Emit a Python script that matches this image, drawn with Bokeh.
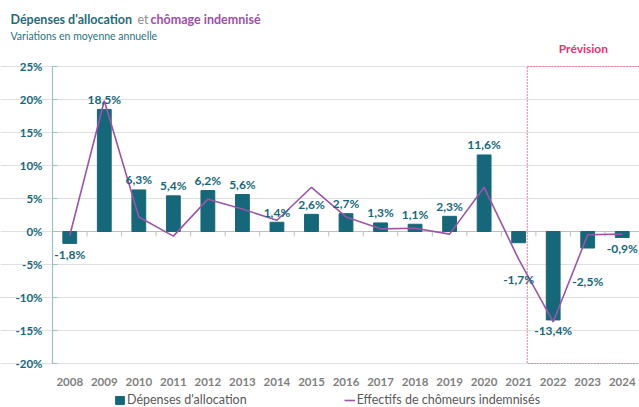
from bokeh.plotting import figure
from bokeh.models import (Range1d, FixedTicker, Span, Legend, LegendItem,
                          ColumnDataSource, Label)
from bokeh.core.properties import value
from bokeh.embed import file_html
from bokeh.resources import INLINE

# ---------------- data ----------------
years = ["2008", "2009", "2010", "2011", "2012", "2013", "2014", "2015", "2016",
         "2017", "2018", "2019", "2020", "2021", "2022", "2023", "2024"]
depenses = [-1.8, 18.5, 6.3, 5.4, 6.2, 5.6, 1.4, 2.6, 2.7, 1.3, 1.1, 2.3, 11.6,
            -1.7, -13.4, -2.5, -0.9]
chomeurs = [-0.6, 19.8, 2.2, -0.7, 4.9, 3.4, 1.7, 6.7, 2.2, 0.4, 0.5, -0.4, 6.7,
            -4.2, -13.7, -0.5, -0.4]
y_ticks = [-20, -15, -10, -5, 0, 5, 10, 15, 20, 25]
forecast_start = "2022"
title_a, title_b, title_c = "Dépenses d'allocation", "et", "chômage indemnisé"
subtitle = "Variations en moyenne annuelle"
forecast_label = "Prévision"
legend_labels = ["Dépenses d'allocation", "Effectifs de chômeurs indemnisés"]

# ---------------- styles / layout ----------------
TEAL = "#17677a"
PURPLE = "#9b55a8"
PINK = "#ee7aa0"
FONT = "Lato"
extra_label_drop = {"2021": 26, "2023": 22}   # manual label placement (style)

W, H = 639, 407
PLOT_LEFT_PX = 52                        # pixel column of the y axis
PLOT_TOP_PX, PLOT_BOTTOM_PX = 66, 363    # pixel rows of the top / bottom ticks
n = len(years)
px_per_cat = (W - PLOT_LEFT_PX) / n
xlo = -0.5 - PLOT_LEFT_PX / px_per_cat   # frame covers the full canvas
xhi = n - 0.5
ytick_lo, ytick_hi = y_ticks[0], y_ticks[-1]
px_per_unit = (PLOT_BOTTOM_PX - PLOT_TOP_PX) / (ytick_hi - ytick_lo)
yhi = ytick_hi + PLOT_TOP_PX / px_per_unit
ylo = ytick_lo - (H - PLOT_BOTTOM_PX) / px_per_unit


def px2x(px):  # page pixel -> data x
    return xlo + px / px_per_cat


def px2y(py):  # page pixel -> data y
    return yhi - py / px_per_unit


xs = list(range(n))
p = figure(width=W, height=H, output_backend="svg", toolbar_location=None,
           x_range=Range1d(xlo, xhi), y_range=Range1d(ylo, yhi),
           min_border_left=0, min_border_right=0, min_border_top=0, min_border_bottom=0)
p.outline_line_color = None
p.background_fill_color = "white"
p.border_fill_color = "white"

# grid
p.xgrid.grid_line_color = None
p.ygrid.grid_line_color = "#e0e0e0"
p.ygrid.grid_line_width = 1

# y axis, drawn at the left edge of the first category
p.yaxis.fixed_location = -0.5
p.yaxis.ticker = FixedTicker(ticks=y_ticks)
p.yaxis.major_label_overrides = {t: f"{t}%" for t in y_ticks}
p.yaxis.major_label_text_font = FONT
p.yaxis.major_label_text_font_style = "bold"
p.yaxis.major_label_text_font_size = "11.5px"
p.yaxis.major_label_text_color = TEAL
p.yaxis.axis_line_color = None
p.yaxis.major_tick_line_color = "#9dbfc5"
p.yaxis.major_tick_in = 5
p.yaxis.major_tick_out = 0
p.yaxis.minor_tick_line_color = None
p.yaxis.major_label_standoff = 10
p.segment(x0=[-0.5], x1=[-0.5], y0=[ytick_lo], y1=[ytick_hi], line_color="#9dbfc5", line_width=1.2)

# x axis, drawn at the bottom tick of the y scale
p.xaxis.fixed_location = ytick_lo
p.xaxis.ticker = FixedTicker(ticks=xs)
p.xaxis.major_label_overrides = {i: y for i, y in enumerate(years)}
p.xaxis.major_label_text_font = FONT
p.xaxis.major_label_text_font_style = "bold"
p.xaxis.major_label_text_font_size = "11.5px"
p.xaxis.major_label_text_color = "#808080"
p.xaxis.axis_line_color = None
p.xaxis.major_tick_line_color = None
p.xaxis.minor_tick_line_color = None
p.xaxis.major_label_standoff = 8

# forecast box
fi = years.index(forecast_start)
box_left = fi - 0.75
p.quad(left=box_left, right=xhi, bottom=ytick_lo, top=ytick_hi,
       fill_alpha=0, line_color=PINK, line_dash="2 1", line_width=1)

# zero line (over the plot width only) + boundary ticks
p.segment(x0=[-0.5], x1=[xhi], y0=[0], y1=[0], line_color="#c0c0c0", line_width=1)
bounds = [i + 0.5 for i in xs[:-1]]
p.segment(x0=bounds, x1=bounds, y0=[0] * len(bounds), y1=[-0.75] * len(bounds),
          line_color="#c0c0c0", line_width=1)

bars = p.vbar(x=xs, top=depenses, width=0.4, fill_color=TEAL, line_color=TEAL)
line = p.line(x=xs, y=chomeurs, line_color=PURPLE, line_width=1.6)

# data labels
lbl_text = [f"{v:.1f}%".replace(".", ",") for v in depenses]
lbl_off = [(-10 if v >= 0 else 11 + extra_label_drop.get(y, 0)) for v, y in zip(depenses, years)]
src = ColumnDataSource(dict(x=xs, y=depenses, t=lbl_text, off=lbl_off))
p.text(x="x", y="y", text="t", y_offset="off", source=src, text_align="center",
       text_baseline="middle", text_font=value(FONT), text_font_style="bold",
       text_font_size="12px", text_color=TEAL)

# header texts
p.add_layout(Label(x=px2x(10), y=px2y(19), text=title_a, text_font=FONT,
                   text_font_style="bold", text_font_size="12.5px", text_color="#1f6b78",
                   text_baseline="middle"))
p.add_layout(Label(x=px2x(137), y=px2y(19), text=title_b, text_font=FONT,
                   text_font_size="12.5px", text_color="#8c8c8c", text_baseline="middle"))
p.add_layout(Label(x=px2x(150), y=px2y(19), text=title_c, text_font=FONT,
                   text_font_style="bold", text_font_size="12.5px", text_color="#9d4ea6",
                   text_baseline="middle"))
p.add_layout(Label(x=px2x(10), y=px2y(35), text=subtitle, text_font=FONT,
                   text_font_size="10.5px", text_color="#2a7380", text_baseline="middle"))
p.add_layout(Label(x=(box_left + xhi) / 2, y=px2y(48), text=forecast_label,
                   text_font=FONT, text_font_style="bold", text_font_size="12px",
                   text_color="#e6336b", text_align="center", text_baseline="middle"))

# legend at the bottom of the frame
legend = Legend(items=[LegendItem(label=legend_labels[0], renderers=[bars]),
                       LegendItem(label=legend_labels[1], renderers=[line])],
                orientation="horizontal", location=(114, 0), spacing=97,
                glyph_width=11, glyph_height=10, label_standoff=2, padding=0, margin=0,
                border_line_color=None, background_fill_alpha=0,
                label_text_font=FONT, label_text_font_size="12.5px",
                label_text_color="#595959", label_height=10)
p.add_layout(legend, "center")

open("out.html", "w").write(file_html(p, INLINE))
